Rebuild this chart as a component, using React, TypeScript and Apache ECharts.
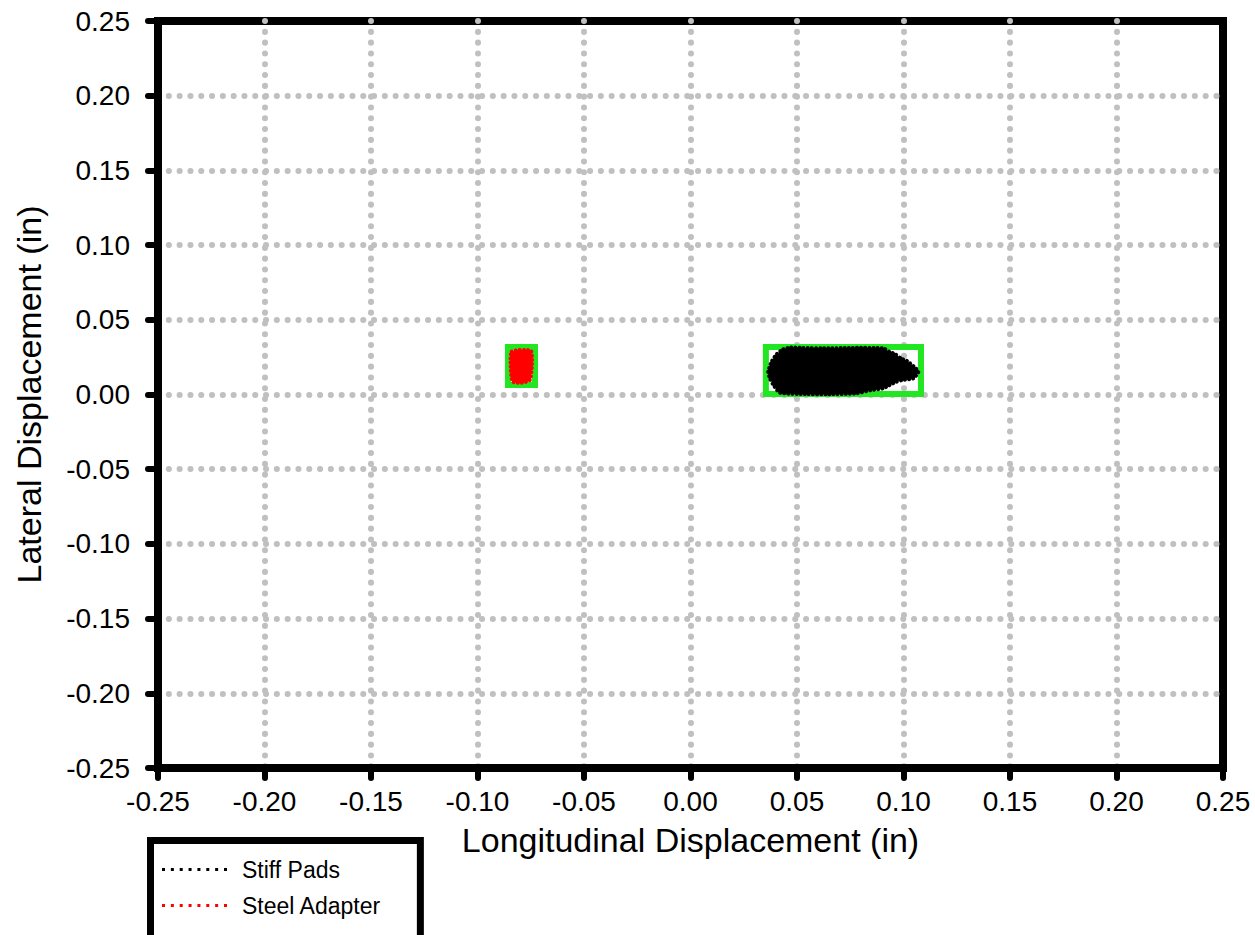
import React, { useEffect, useRef } from "react";
import * as echarts from "echarts";

const xTickLabels = ["-0.25", "-0.20", "-0.15", "-0.10", "-0.05", "0.00", "0.05", "0.10", "0.15", "0.20", "0.25"];
const yTickLabels = ["-0.25", "-0.20", "-0.15", "-0.10", "-0.05", "0.00", "0.05", "0.10", "0.15", "0.20", "0.25"];

const seriesNames = ["Stiff Pads", "Steel Adapter"];
const seriesColors = ["#000000", "#ff0000"];

// outline of the dense cloud of points (longitudinal, lateral)
const stiffPadsOutline: [number, number][] = [
  [0.0436, 0.0303], [0.0470, 0.0314], [0.0524, 0.0312], [0.0624, 0.0309], [0.0760, 0.0312],
  [0.0905, 0.0309], [0.0935, 0.0285], [0.0960, 0.0271], [0.0990, 0.0240], [0.1015, 0.0226],
  [0.1050, 0.0185], [0.1070, 0.0153], [0.1046, 0.0108], [0.0990, 0.0095], [0.0968, 0.0086],
  [0.0930, 0.0060], [0.0905, 0.0041], [0.0850, 0.0030], [0.0780, 0.0008], [0.0640, 0.0002],
  [0.0546, 0.0003], [0.0420, 0.0012], [0.0389, 0.0064], [0.0372, 0.0110], [0.0365, 0.0153],
  [0.0381, 0.0220], [0.0405, 0.0271],
];
const steelAdapterOutline: [number, number][] = [
  [-0.0839, 0.0287], [-0.0750, 0.0293], [-0.0744, 0.0209], [-0.0754, 0.0097],
  [-0.0793, 0.0079], [-0.0835, 0.0086], [-0.0844, 0.0186],
];

// highlight boxes [[xMin, yMax], [xMax, yMin]]
const stiffPadsBox: [number, number][] = [[0.0354, 0.0318], [0.1082, 0.0003]];
const steelAdapterBox: [number, number][] = [[-0.0857, 0.0318], [-0.0730, 0.0064]];

const FONT = "'Liberation Sans', Arial, Helvetica, sans-serif";

function dotIcon(): string {
  const parts: string[] = [];
  for (let i = 0; i < 8; i++) {
    const x = (i * 62) / 7;
    parts.push(`M${x.toFixed(2)} 0h3v3h-3z`);
  }
  return "path://" + parts.join(" ");
}

function blobRender(outline: [number, number][], color: string) {
  return (params: any, api: any) => {
    if (params.dataIndex !== 0) return null;
    const pts = outline.map((p) => api.coord(p));
    return {
      type: "polygon",
      shape: { points: pts, smooth: 0.2 },
      style: { fill: color, stroke: color, lineWidth: 4, lineDash: [0.1, 4], lineCap: "round" },
    };
  };
}

function boxMark(box: [number, number][]) {
  return {
    silent: true,
    itemStyle: { color: "rgba(0,0,0,0)", borderColor: "#22e622", borderWidth: 6 },
    data: [[{ coord: box[0] }, { coord: box[1] }]],
  };
}

export default function App() {
  const ref = useRef<HTMLDivElement>(null);
  useEffect(() => {
    if (!ref.current) return;
    const chart = echarts.init(ref.current, null, { renderer: "svg" });
    const gridLine = {
      show: true,
      showMinLine: false,
      showMaxLine: false,
      lineStyle: { color: "#c0c0c0", width: 6, type: [0.1, 10.7], cap: "round" },
    };
    const axisLine = { show: true, onZero: false, lineStyle: { color: "#000", width: 8 } };
    const axisTick = { show: true, length: 10, lineStyle: { color: "#000", width: 6, cap: "round" } };
    chart.setOption({
      animation: false,
      backgroundColor: "#ffffff",
      textStyle: { fontFamily: FONT },
      grid: {
        left: 158,
        right: 32,
        top: 21,
        bottom: 167,
        show: true,
        borderColor: "#000",
        borderWidth: 8,
        backgroundColor: "transparent",
      },
      xAxis: {
        type: "value",
        min: -0.25,
        max: 0.25,
        interval: 0.05,
        name: "Longitudinal Displacement (in)",
        nameLocation: "middle",
        nameGap: 55,
        nameTextStyle: { fontSize: 34, color: "#000", fontFamily: FONT },
        axisLine,
        axisTick,
        splitLine: gridLine,
        axisLabel: {
          fontSize: 28,
          color: "#000",
          fontFamily: FONT,
          margin: 19,
          formatter: (_v: number, i: number) => xTickLabels[i],
        },
      },
      yAxis: {
        type: "value",
        min: -0.25,
        max: 0.25,
        interval: 0.05,
        name: "Lateral Displacement (in)",
        nameLocation: "middle",
        nameRotate: 90,
        nameGap: 112,
        nameTextStyle: { fontSize: 34, color: "#000", fontFamily: FONT },
        axisLine,
        axisTick,
        splitLine: gridLine,
        axisLabel: {
          fontSize: 28,
          color: "#000",
          fontFamily: FONT,
          margin: 28,
          formatter: (_v: number, i: number) => yTickLabels[i],
        },
      },
      legend: {
        type: "plain",
        orient: "vertical",
        left: 150.5,
        top: 840.5,
        width: 300,
        height: 300,
        align: "left",
        data: seriesNames.map((n) => ({ name: n, icon: dotIcon() })),
        itemWidth: 65,
        itemHeight: 3,
        itemGap: 12,
        padding: [17, 39, 80, 11.5],
        borderColor: "#000",
        borderWidth: 7,
        borderRadius: 0,
        backgroundColor: "#fff",
        selectedMode: false,
        textStyle: { fontSize: 23, color: "#000", fontFamily: FONT, lineHeight: 24, padding: [0, 0, 0, 10] },
      },
      series: [
        {
          name: seriesNames[0],
          type: "custom",
          renderItem: blobRender(stiffPadsOutline, seriesColors[0]),
          itemStyle: { color: seriesColors[0] },
          encode: { x: 0, y: 1 },
          data: stiffPadsOutline,
          markArea: boxMark(stiffPadsBox),
          z: 3,
        },
        {
          name: seriesNames[1],
          type: "custom",
          renderItem: blobRender(steelAdapterOutline, seriesColors[1]),
          itemStyle: { color: seriesColors[1] },
          encode: { x: 0, y: 1 },
          data: steelAdapterOutline,
          markArea: boxMark(steelAdapterBox),
          z: 3,
        },
      ],
    });
    return () => chart.dispose();
  }, []);
  return (
    <div
      ref={ref}
      style={{ position: "fixed", left: 0, top: 0, width: 1255, height: 935, background: "#fff" }}
    />
  );
}
